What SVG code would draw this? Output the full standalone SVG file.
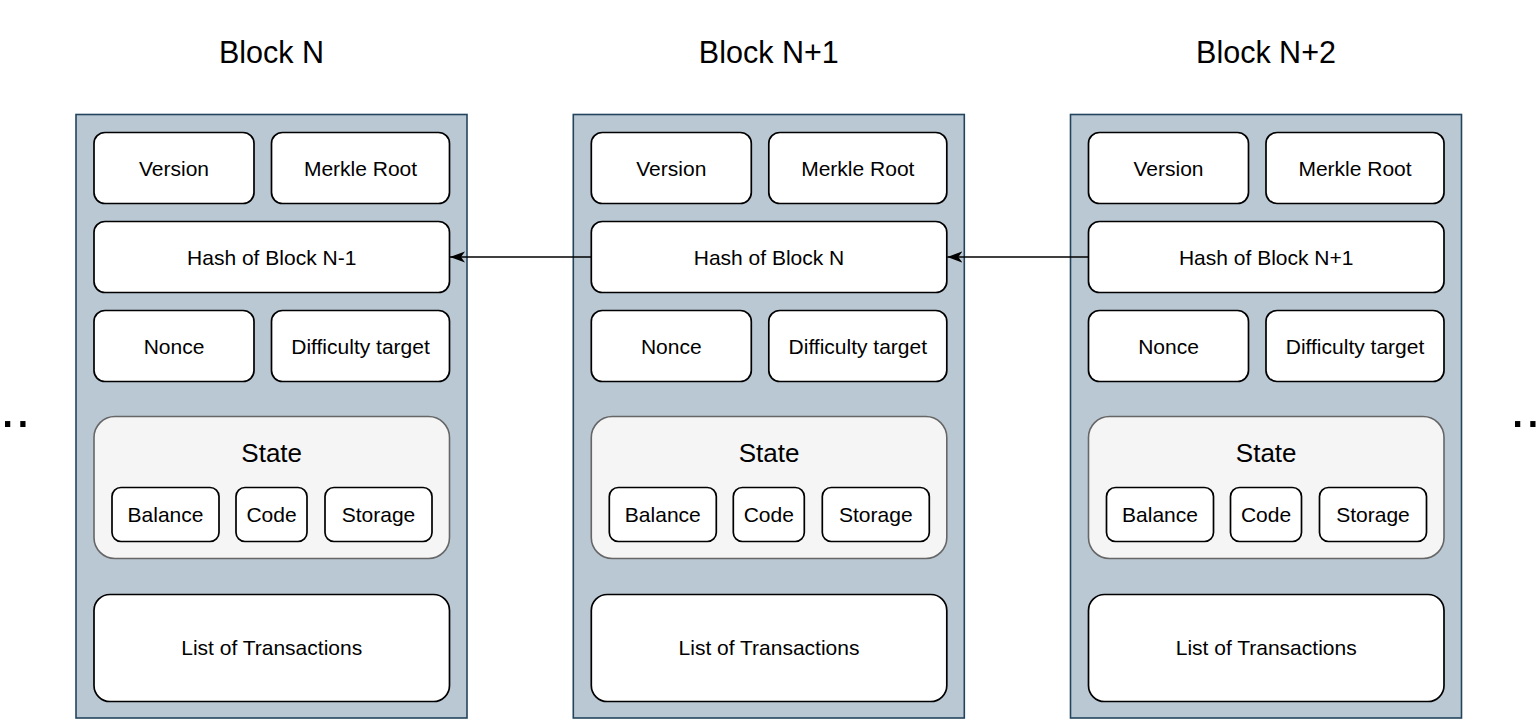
<svg xmlns="http://www.w3.org/2000/svg" width="1538" height="724" viewBox="0 0 1538 724">
<style>
text{font-family:"Liberation Sans",Arial,Helvetica,sans-serif;fill:#000;text-anchor:middle}
.outer{fill:#bac8d3;stroke:#23445d;stroke-width:1.6}
.box{fill:#fff;stroke:#000;stroke-width:1.7}
.state{fill:#f5f5f5;stroke:#666;stroke-width:1.6}
.lbl{font-size:21px}
.title{font-size:30.5px}
.stitle{font-size:26px}
.dots{font-size:55px;text-anchor:start}
.conn{stroke:#000;stroke-width:1.3;fill:none}
</style>
<defs>
<marker id="arr" markerWidth="16" markerHeight="12" viewBox="0 0 16 12" refX="15" refY="6" orient="auto" markerUnits="userSpaceOnUse">
<path d="M15,6 L0,0.5 L4,6 L0,11.5 Z" fill="#000"/>
</marker>
<g id="blk">
<rect class="outer" x="76" y="114.5" width="391" height="603.5"/>
<rect class="box" x="94" y="132.5" width="160" height="71" rx="11"/>
<text class="lbl" x="174" y="176">Version</text>
<rect class="box" x="271.5" y="132.5" width="178" height="71" rx="11"/>
<text class="lbl" x="360.5" y="176">Merkle Root</text>
<rect class="box" x="94" y="221.5" width="355.5" height="71" rx="11"/>
<rect class="box" x="94" y="310.5" width="160" height="71" rx="11"/>
<text class="lbl" x="174" y="354">Nonce</text>
<rect class="box" x="271.5" y="310.5" width="178" height="71" rx="11"/>
<text class="lbl" x="360.5" y="354">Difficulty target</text>
<rect class="state" x="94" y="416.5" width="355.5" height="142" rx="21"/>
<text class="stitle" x="271.7" y="462">State</text>
<rect class="box" x="112" y="487.5" width="107" height="54" rx="9"/>
<text class="lbl" x="165.5" y="522">Balance</text>
<rect class="box" x="236" y="487.5" width="71" height="54" rx="9"/>
<text class="lbl" x="271.5" y="522">Code</text>
<rect class="box" x="325" y="487.5" width="107" height="54" rx="9"/>
<text class="lbl" x="378.5" y="522">Storage</text>
<rect class="box" x="94" y="594.5" width="355.5" height="107" rx="16"/>
<text class="lbl" x="271.7" y="655">List of Transactions</text>
</g>
</defs>
<g id="block-n">
<text class="title" x="271.5" y="63">Block N</text>
<use href="#blk"/>
<text class="lbl" x="271.7" y="265">Hash of Block N-1</text>
</g>
<g id="block-n1">
<text class="title" x="768.8" y="63">Block N+1</text>
<use href="#blk" transform="translate(497.3,0)"/>
<text class="lbl" x="769" y="265">Hash of Block N</text>
</g>
<g id="block-n2">
<text class="title" x="1266" y="63">Block N+2</text>
<use href="#blk" transform="translate(994.5,0)"/>
<text class="lbl" x="1266.2" y="265">Hash of Block N+1</text>
</g>
<g id="ellipsis-left"><text class="dots" x="0" y="427">..</text></g>
<g id="ellipsis-right"><text class="dots" x="1510" y="427">..</text></g>
<g id="connectors">
<line class="conn" x1="591.3" y1="257" x2="450" y2="257" marker-end="url(#arr)"/>
<line class="conn" x1="1088.5" y1="257" x2="947.3" y2="257" marker-end="url(#arr)"/>
</g>
</svg>
